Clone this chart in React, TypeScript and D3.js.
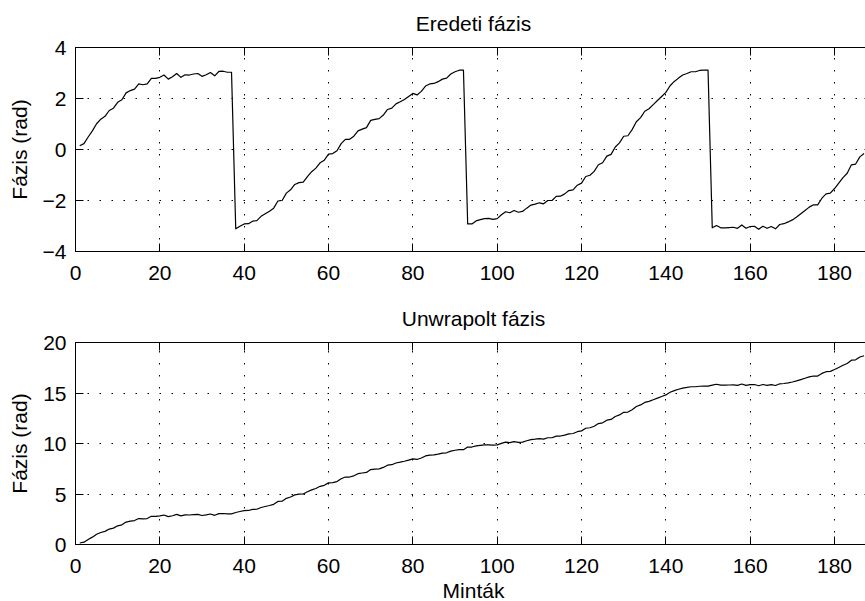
import React from "react";
import * as d3 from "d3";

// Wrapped phase (rad), samples 1..187
const wrappedPhase: number[] = [
  0.15, 0.23, 0.49, 0.73, 1.01, 1.19, 1.30, 1.53, 1.62, 1.85,
  1.95, 2.22, 2.31, 2.37, 2.57, 2.54, 2.57, 2.79, 2.79, 2.83,
  2.92, 2.76, 2.85, 2.98, 2.83, 2.93, 2.92, 2.96, 2.98, 2.87,
  2.93, 3.02, 2.89, 3.06, 3.07, 3.03, 3.03, -3.11, -3.01, -2.92,
  -2.91, -2.81, -2.79, -2.62, -2.52, -2.42, -2.30, -2.02, -2.00, -1.71,
  -1.58, -1.37, -1.30, -1.28, -1.06, -0.87, -0.73, -0.52, -0.42, -0.18,
  -0.16, -0.05, 0.23, 0.40, 0.40, 0.52, 0.73, 0.80, 0.86, 1.14,
  1.18, 1.21, 1.35, 1.57, 1.62, 1.79, 1.87, 1.96, 2.08, 2.20,
  2.14, 2.28, 2.49, 2.57, 2.59, 2.66, 2.76, 2.80, 2.96, 3.05,
  3.11, 3.11, -2.92, -2.92, -2.80, -2.75, -2.71, -2.70, -2.74, -2.71,
  -2.56, -2.44, -2.48, -2.39, -2.46, -2.43, -2.30, -2.18, -2.14, -2.09,
  -2.13, -2.00, -2.00, -1.84, -1.83, -1.74, -1.61, -1.58, -1.40, -1.32,
  -1.06, -1.01, -0.86, -0.60, -0.52, -0.26, -0.19, 0.10, 0.26, 0.52,
  0.54, 0.78, 1.09, 1.25, 1.50, 1.60, 1.76, 1.92, 2.08, 2.24,
  2.50, 2.67, 2.80, 2.92, 2.98, 3.05, 3.05, 3.10, 3.11, 3.11,
  -3.07, -2.98, -3.07, -3.07, -3.06, -3.05, -3.09, -2.96, -3.09, -3.02,
  -3.01, -3.13, -3.01, -3.09, -3.02, -3.11, -2.94, -2.91, -2.84, -2.76,
  -2.65, -2.52, -2.39, -2.26, -2.17, -2.17, -1.91, -1.74, -1.71, -1.53,
  -1.32, -1.10, -0.93, -0.60, -0.57, -0.29, -0.16,
];

// Unwrapped phase (rad), samples 1..187
const unwrappedPhase: number[] = [
  0.15, 0.23, 0.49, 0.73, 1.01, 1.19, 1.30, 1.53, 1.62, 1.85,
  1.95, 2.22, 2.31, 2.37, 2.57, 2.54, 2.57, 2.79, 2.79, 2.83,
  2.92, 2.76, 2.85, 2.98, 2.83, 2.93, 2.92, 2.96, 2.98, 2.87,
  2.93, 3.02, 2.89, 3.06, 3.07, 3.03, 3.03, 3.17, 3.27, 3.36,
  3.37, 3.47, 3.49, 3.66, 3.76, 3.86, 3.98, 4.26, 4.28, 4.57,
  4.70, 4.91, 4.98, 5.00, 5.22, 5.41, 5.55, 5.76, 5.86, 6.10,
  6.12, 6.23, 6.51, 6.68, 6.68, 6.80, 7.01, 7.08, 7.14, 7.42,
  7.46, 7.49, 7.63, 7.85, 7.90, 8.07, 8.15, 8.24, 8.36, 8.48,
  8.42, 8.56, 8.77, 8.85, 8.87, 8.94, 9.04, 9.08, 9.24, 9.33,
  9.39, 9.39, 9.65, 9.65, 9.77, 9.82, 9.86, 9.87, 9.83, 9.86,
  10.01, 10.13, 10.09, 10.18, 10.11, 10.14, 10.27, 10.39, 10.43, 10.48,
  10.44, 10.57, 10.57, 10.73, 10.74, 10.83, 10.96, 10.99, 11.17, 11.25,
  11.51, 11.56, 11.71, 11.97, 12.05, 12.31, 12.38, 12.67, 12.83, 13.09,
  13.11, 13.35, 13.66, 13.82, 14.07, 14.17, 14.33, 14.49, 14.65, 14.81,
  15.07, 15.24, 15.37, 15.49, 15.55, 15.62, 15.62, 15.67, 15.68, 15.68,
  15.78, 15.87, 15.78, 15.78, 15.79, 15.80, 15.76, 15.89, 15.76, 15.83,
  15.84, 15.72, 15.84, 15.76, 15.83, 15.74, 15.91, 15.94, 16.01, 16.09,
  16.20, 16.33, 16.46, 16.59, 16.68, 16.68, 16.94, 17.11, 17.14, 17.32,
  17.53, 17.75, 17.92, 18.25, 18.28, 18.56, 18.69,
];

const xTicks: number[] = [0, 20, 40, 60, 80, 100, 120, 140, 160, 180];
const topYTicks: number[] = [-4, -2, 0, 2, 4];
const bottomYTicks: number[] = [0, 5, 10, 15, 20];
const topTitle = "Eredeti fázis";
const bottomTitle = "Unwrapolt fázis";
const yLabel = "Fázis (rad)";
const xLabel = "Minták";

const W = 865;
const H = 601;
const FONT = "'Liberation Sans', Arial, Helvetica, sans-serif";
const FS = 21;
const TICK = 8;

const LEFT = 75.5;
const RIGHT = 872.5;
const X_MAX = 189;

const px = (v: number) => Math.floor(v) + 0.5;

type PanelProps = {
  data: number[];
  yDomain: [number, number];
  yTicks: number[];
  top: number;
  bottom: number;
  title: string;
  showXLabel: boolean;
};

function Panel({ data, yDomain, yTicks, top, bottom, title, showXLabel }: PanelProps) {
  const x = d3.scaleLinear().domain([0, X_MAX]).range([LEFT, RIGHT]);
  const y = d3.scaleLinear().domain(yDomain).range([bottom, top]);
  const line = d3
    .line<number>()
    .x((_, i) => x(i + 1))
    .y((d) => y(d));
  const cx = (LEFT + RIGHT) / 2 - 0.5;
  return (
    <g>
      {/* grid */}
      {xTicks.slice(1).map((t) => (
        <line
          key={"gx" + t}
          x1={px(x(t))}
          x2={px(x(t))}
          y1={bottom}
          y2={top}
          stroke="#000"
          strokeWidth={1}
          strokeDasharray="1.5,10.5"
        />
      ))}
      {yTicks.slice(1, -1).map((t) => (
        <line
          key={"gy" + t}
          x1={LEFT}
          x2={RIGHT}
          y1={px(y(t))}
          y2={px(y(t))}
          stroke="#000"
          strokeWidth={1}
          strokeDasharray="1.5,10.5"
        />
      ))}
      {/* data */}
      <path d={line(data) || ""} fill="none" stroke="#000" strokeWidth={1.2} strokeLinejoin="round" />
      {/* box */}
      <rect x={LEFT} y={top} width={RIGHT - LEFT} height={bottom - top} fill="none" stroke="#000" strokeWidth={1} />
      {/* ticks */}
      {xTicks.map((t) => (
        <g key={"tx" + t}>
          <line x1={px(x(t))} x2={px(x(t))} y1={bottom} y2={bottom - TICK} stroke="#000" />
          <line x1={px(x(t))} x2={px(x(t))} y1={top} y2={top + TICK} stroke="#000" />
          <text
            x={x(t)}
            y={bottom + 28}
            textAnchor="middle"
            fontFamily={FONT}
            fontSize={FS}
            fill="#000"
          >
            {t}
          </text>
        </g>
      ))}
      {yTicks.map((t) => (
        <g key={"ty" + t}>
          <line x1={LEFT} x2={LEFT + TICK} y1={px(y(t))} y2={px(y(t))} stroke="#000" />
          <line x1={RIGHT} x2={RIGHT - TICK} y1={px(y(t))} y2={px(y(t))} stroke="#000" />
          <text
            x={LEFT - 9}
            y={y(t) + 7.5}
            textAnchor="end"
            fontFamily={FONT}
            fontSize={FS}
            fill="#000"
          >
            {t < 0 ? "\u2212" + Math.abs(t) : String(t)}
          </text>
        </g>
      ))}
      <text x={cx} y={top - 17} textAnchor="middle" fontFamily={FONT} fontSize={FS} fill="#000">
        {title}
      </text>
      <text
        transform={`translate(27,${(top + bottom) / 2}) rotate(-90)`}
        textAnchor="middle"
        fontFamily={FONT}
        fontSize={FS}
        fill="#000"
      >
        {yLabel}
      </text>
      {showXLabel && (
        <text x={cx} y={bottom + 53} textAnchor="middle" fontFamily={FONT} fontSize={FS} fill="#000">
          {xLabel}
        </text>
      )}
    </g>
  );
}

export default function App() {
  return (
    <svg
      width={W}
      height={H}
      viewBox={`0 0 ${W} ${H}`}
      style={{ position: "absolute", left: 0, top: 0, background: "#fff" }}
    >
      <rect x={0} y={0} width={W} height={H} fill="#fff" />
      <Panel
        data={wrappedPhase}
        yDomain={[-4, 4]}
        yTicks={topYTicks}
        top={47.5}
        bottom={251.5}
        title={topTitle}
        showXLabel={false}
      />
      <Panel
        data={unwrappedPhase}
        yDomain={[0, 20]}
        yTicks={bottomYTicks}
        top={342.5}
        bottom={544.5}
        title={bottomTitle}
        showXLabel={true}
      />
    </svg>
  );
}
